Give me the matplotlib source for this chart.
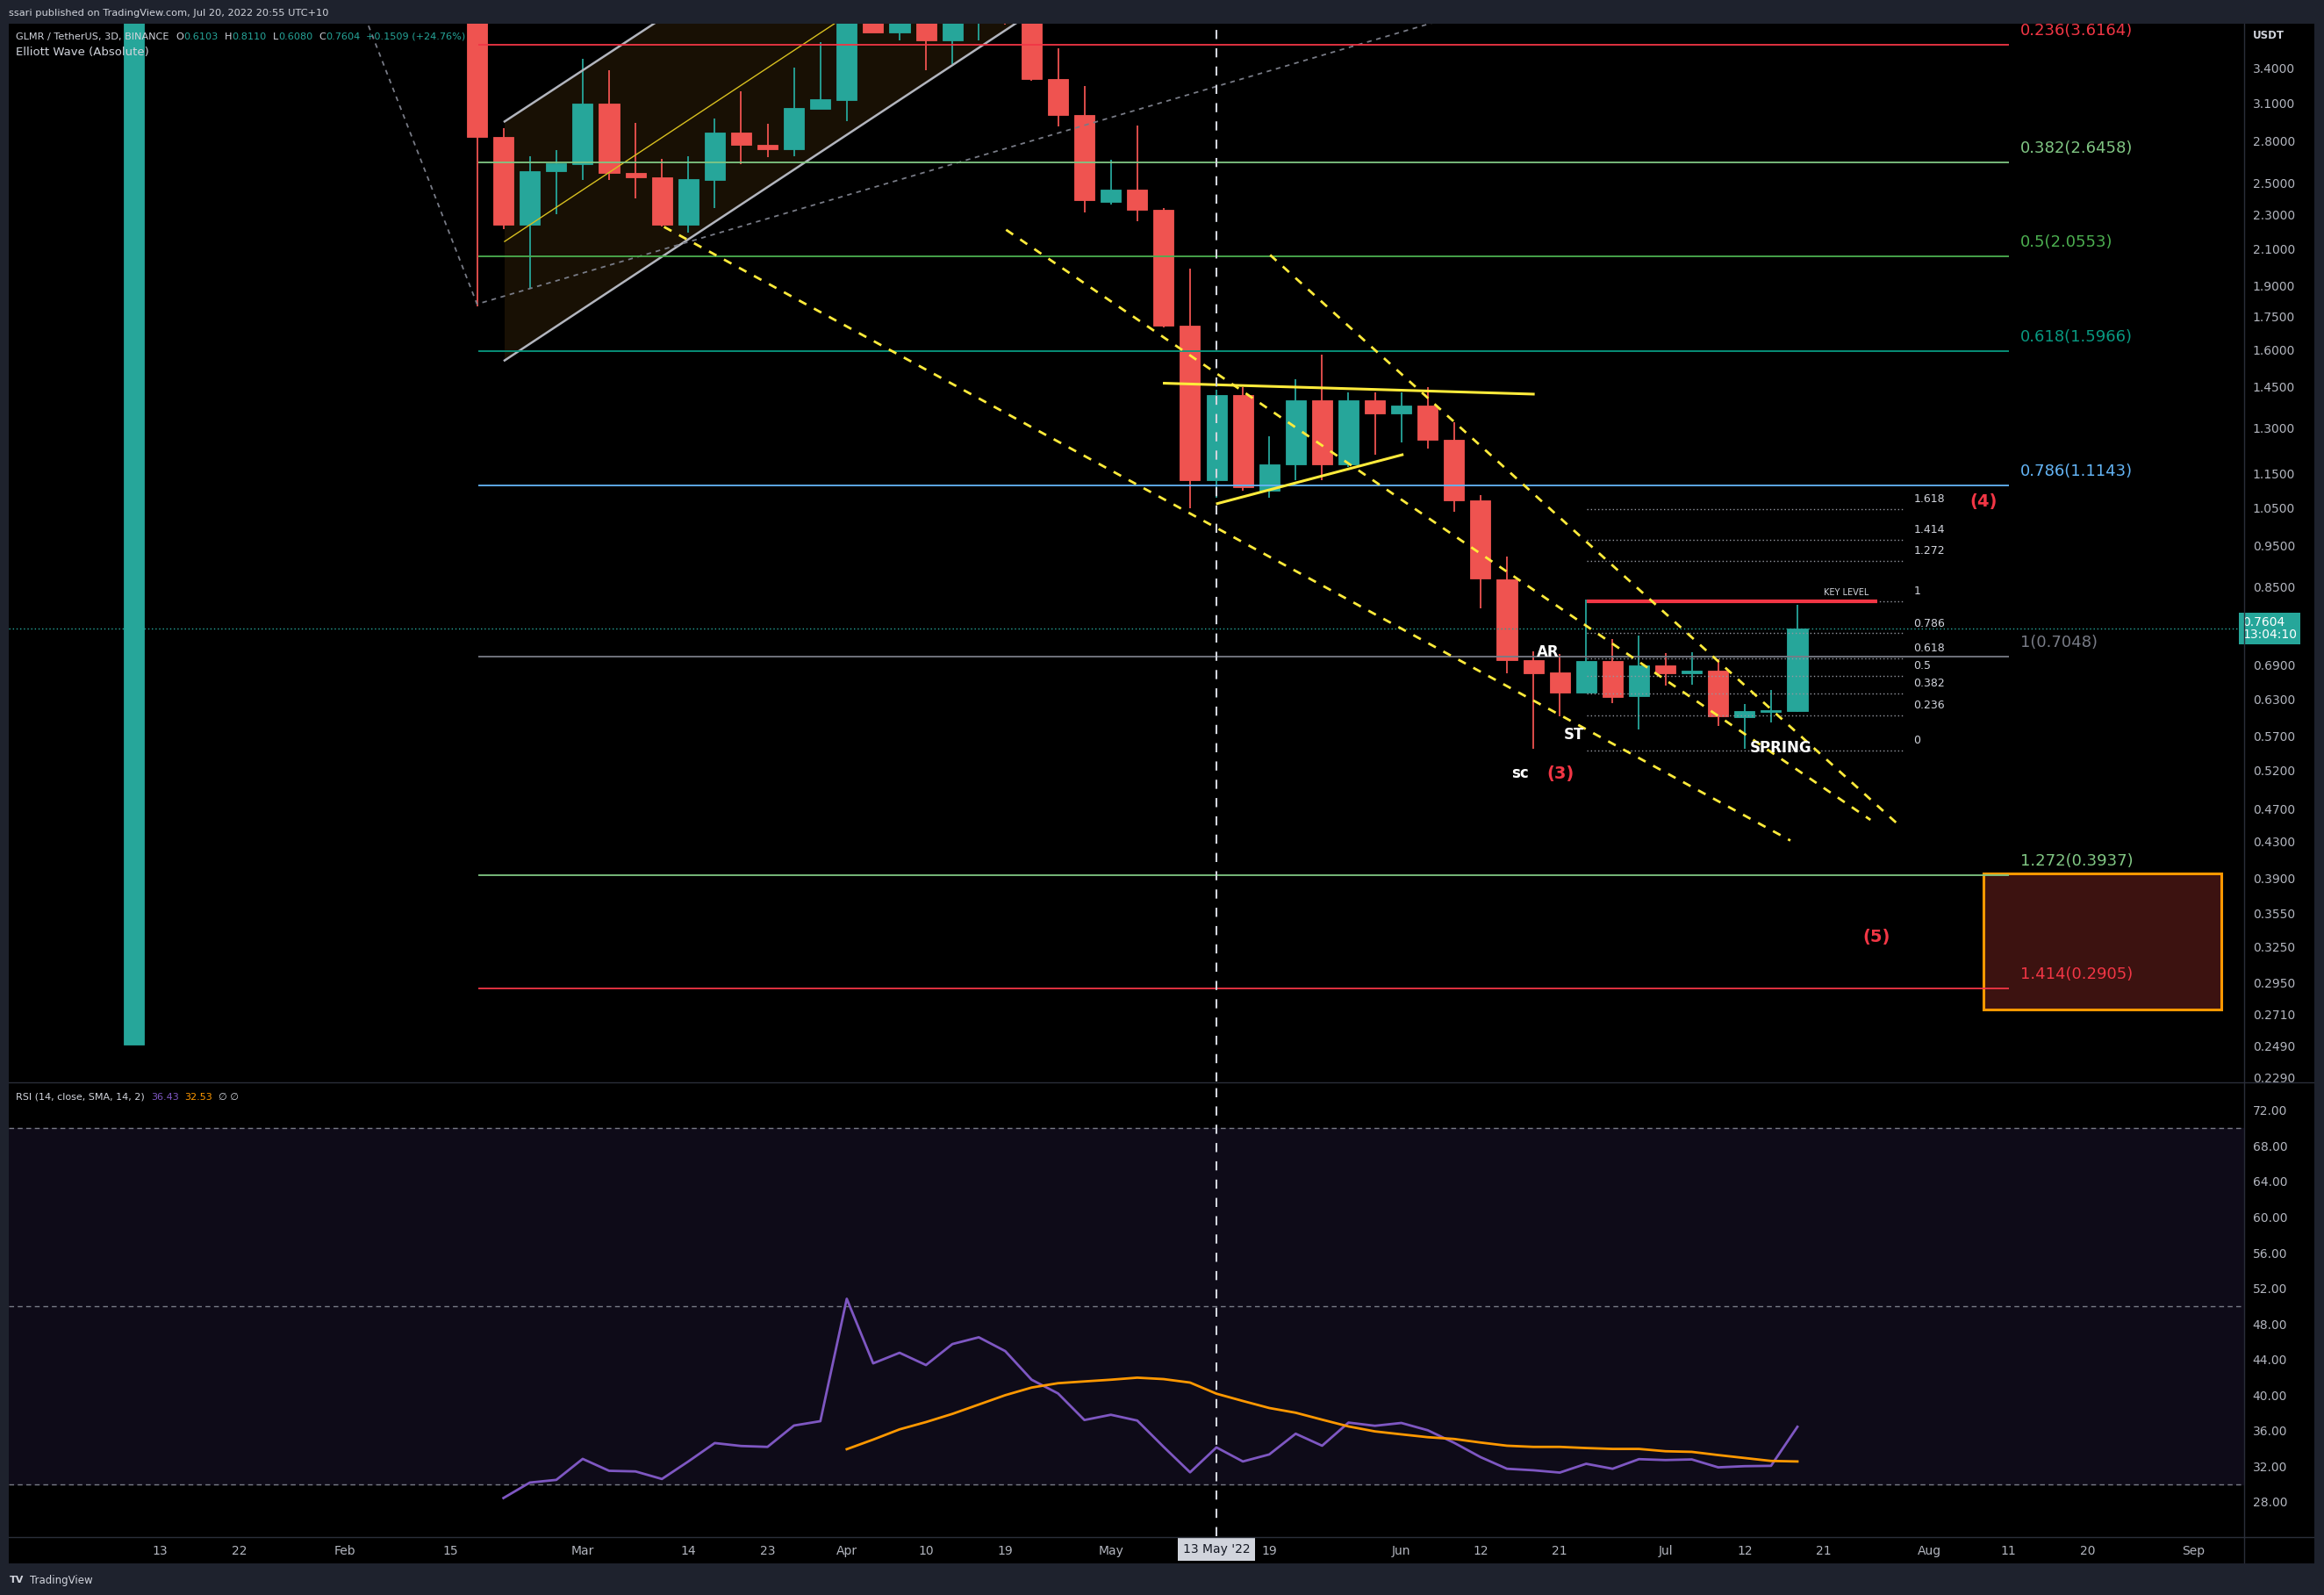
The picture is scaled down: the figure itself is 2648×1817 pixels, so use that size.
import numpy as np
import matplotlib
matplotlib.use("Agg")
import matplotlib.pyplot as plt
import matplotlib.transforms as mtransforms
from matplotlib.patches import Rectangle, Polygon
from matplotlib.lines import Line2D
from matplotlib.text import Annotation
from matplotlib.ticker import NullLocator, NullFormatter

W, H = 2648, 1817

UP = "#26a69a"
DOWN = "#ef5350"
FRAME = "#1e222d"
AXIS_TXT = "#b2b5be"
SEP = "#2a2e39"
YELLOW = "#ffeb3b"

# ---- candles: x = days after 13 Jan 2022, 3D bars ----
days = [-3, 36, 39, 42, 45, 48, 51, 54, 57, 60, 63, 66, 69, 72, 75, 78, 81, 84, 87, 90,
        93, 96, 99, 102, 105, 108, 111, 114, 117, 120, 123, 126, 129, 132, 135, 138, 141,
        144, 147, 150, 153, 156, 159, 162, 165, 168, 171, 174, 177, 180, 183, 186]
opens = [0.250, 4.05, 2.83, 2.24, 2.58, 2.63, 3.09, 2.57, 2.54, 2.24, 2.52, 2.86, 2.77, 2.74,
         3.05, 3.12, 4.05, 3.74, 3.96, 3.66, 3.92, 4.02, 3.90, 3.30, 3.00, 2.38, 2.46, 2.33,
         1.71, 1.13, 1.42, 1.10, 1.18, 1.40, 1.18, 1.40, 1.35, 1.38, 1.26, 1.07, 0.868, 0.699,
         0.676, 0.641, 0.697, 0.635, 0.689, 0.674, 0.679, 0.600, 0.609, 0.6103]
highs = [19.5, 4.10, 2.90, 2.69, 2.73, 3.49, 3.38, 2.94, 2.67, 2.69, 2.97, 3.20, 2.93, 3.41,
         3.65, 4.35, 4.20, 4.10, 4.05, 3.95, 4.15, 4.12, 3.95, 3.59, 3.24, 2.66, 2.92, 2.34,
         1.99, 1.44, 1.45, 1.27, 1.48, 1.58, 1.43, 1.43, 1.43, 1.45, 1.32, 1.086, 0.922, 0.716,
         0.710, 0.821, 0.740, 0.746, 0.712, 0.713, 0.701, 0.621, 0.645, 0.8110]
lows = [0.250, 1.80, 2.21, 1.89, 2.30, 2.52, 2.52, 2.40, 2.23, 2.19, 2.34, 2.63, 2.68, 2.69,
        3.05, 2.95, 3.74, 3.66, 3.38, 3.44, 3.66, 3.82, 3.29, 2.91, 2.31, 2.36, 2.26, 1.70,
        1.05, 1.08, 1.10, 1.08, 1.13, 1.13, 1.17, 1.21, 1.25, 1.23, 1.04, 0.803, 0.674, 0.552,
        0.601, 0.641, 0.623, 0.581, 0.653, 0.654, 0.586, 0.552, 0.592, 0.6080]
closes = [9.80, 2.83, 2.24, 2.58, 2.64, 3.09, 2.57, 2.54, 2.24, 2.53, 2.86, 2.77, 2.74, 3.06,
          3.13, 4.05, 3.74, 3.95, 3.66, 3.92, 4.02, 3.90, 3.30, 3.00, 2.39, 2.46, 2.33, 1.71,
          1.13, 1.42, 1.11, 1.18, 1.40, 1.18, 1.40, 1.35, 1.38, 1.26, 1.07, 0.869, 0.699, 0.675,
          0.641, 0.697, 0.634, 0.689, 0.674, 0.679, 0.602, 0.610, 0.611, 0.7604]

# ---- RSI ----
rsi_days = list(range(39, 187, 3))
rsi_vals = [28.42, 30.16, 30.46, 32.82, 31.48, 31.41, 30.56, 32.53, 34.60, 34.27, 34.17, 36.57,
            37.06, 50.82, 43.56, 44.75, 43.37, 45.73, 46.49, 44.94, 41.72, 40.18, 37.19, 37.78,
            37.13, 34.17, 31.31, 34.11, 32.53, 33.32, 35.65, 34.30, 36.90, 36.54, 36.86, 36.04,
            34.63, 33.02, 31.71, 31.54, 31.28, 32.27, 31.71, 32.79, 32.69, 32.76, 31.87, 32.00,
            32.04, 36.43]
sma_days = list(range(78, 187, 3))
sma_vals = [33.91, 34.99, 36.14, 36.96, 37.88, 38.93, 39.98, 40.84, 41.33, 41.53, 41.72, 41.95,
            41.79, 41.40, 40.15, 39.33, 38.54, 38.01, 37.23, 36.47, 35.91, 35.58, 35.26, 35.06,
            34.66, 34.30, 34.17, 34.17, 34.04, 33.94, 33.94, 33.68, 33.61, 33.25, 32.92, 32.59,
            32.53]

# ---- axes ticks ----
price_ticks = [3.4, 3.1, 2.8, 2.5, 2.3, 2.1, 1.9, 1.75, 1.6, 1.45, 1.3, 1.15, 1.05, 0.95, 0.85,
               0.69, 0.63, 0.57, 0.52, 0.47, 0.43, 0.39, 0.355, 0.325, 0.295, 0.271, 0.249, 0.229]
rsi_ticks = [72, 68, 64, 60, 56, 52, 48, 44, 40, 36, 32, 28]
time_ticks = [0, 9, 21, 33, 48, 60, 69, 78, 87, 96, 108, 126, 141, 150, 159, 171, 180, 189,
              201, 210, 219, 231]
time_labels = ["13", "22", "Feb", "15", "Mar", "14", "23", "Apr", "10", "19", "May", "19",
               "Jun", "12", "21", "Jul", "12", "21", "Aug", "11", "20", "Sep"]

# ---- big fib (elliott target) ----
fib_ratios = ["0.236", "0.382", "0.5", "0.618", "0.786", "1", "1.272", "1.414"]
fib_prices = [3.6164, 2.6458, 2.0553, 1.5966, 1.1143, 0.7048, 0.3937, 0.2905]
fib_colors = ["#f23645", "#81c784", "#4caf50", "#089981", "#64b5f6", "#787b86", "#81c784", "#f23645"]

# ---- small fib on the range ----
small_fib_levels = ["0", "0.236", "0.382", "0.5", "0.618", "0.786", "1", "1.272", "1.414", "1.618"]
small_fib_low, small_fib_high = 0.549, 0.818

# ---- drawings (day, price) ----
channel_upper = [(39.13, 2.949), (61.57, 4.168)]
channel_mid = [(39.13, 2.140), (81.51, 4.134)]
channel_lower = [(39.13, 1.557), (101.46, 4.095)]
gray_wave = [(21.75, 4.276), (36.0, 1.81), (151.3, 4.023)]
dashed_lines = [[(57.24, 2.225), (185.2, 0.4315)],
                [(96.1, 2.208), (194.3, 0.456)],
                [(126.1, 2.064), (197.8, 0.447)]]
tri_upper = [(114.07, 1.465), (156.0, 1.423)]
tri_lower = [(120.1, 1.062), (141.1, 1.21)]
target_box = (207.1, 0.2749, 234.2, 0.3947)
key_level = 0.818
last_close = 0.7604
cross_day = 120

fig = plt.figure(figsize=(W / 100, H / 100), dpi=100, facecolor="#000000")


def box(x0, y0, x1, y1):
    return [x0 / W, 1 - y1 / H, (x1 - x0) / W, (y1 - y0) / H]


ax = fig.add_axes(box(10, 27, 2557, 1232))
axr = fig.add_axes(box(10, 1233, 2557, 1750))
for a in (ax, axr):
    a.set_facecolor("#000000")
    for s in a.spines.values():
        s.set_visible(False)
    a.set_xlim(-17.2, 236.75)

ax.set_yscale("log")
ax.set_ylim(0.2266, 3.830)
axr.set_ylim(24.13, 75.15)

# price axis
ax.yaxis.tick_right()
ax.set_yticks(price_ticks)
ax.set_yticklabels([f"{t:.4f}" for t in price_ticks])
ax.yaxis.set_minor_locator(NullLocator())
ax.yaxis.set_minor_formatter(NullFormatter())
ax.tick_params(axis="y", length=0, pad=7, labelsize=10, labelcolor=AXIS_TXT)
ax.tick_params(axis="x", bottom=False, labelbottom=False)

axr.yaxis.tick_right()
axr.set_yticks(rsi_ticks)
axr.set_yticklabels([f"{t:.2f}" for t in rsi_ticks])
axr.tick_params(axis="y", length=0, pad=7, labelsize=10, labelcolor=AXIS_TXT)
axr.set_xticks(time_ticks)
axr.set_xticklabels(time_labels)
axr.tick_params(axis="x", length=0, pad=7, labelsize=10, labelcolor=AXIS_TXT)

# ascending channel
fill_pts = [channel_lower[0], channel_upper[0], channel_upper[1], channel_lower[1]]
ax.add_patch(Polygon(fill_pts, closed=True, fc="#181004", ec="none", zorder=1))
for seg, col, lw in [(channel_upper, "#b2b5be", 1.8), (channel_lower, "#b2b5be", 1.8),
                     (channel_mid, "#d8c020", 1.0)]:
    ax.plot([p[0] for p in seg], [p[1] for p in seg], color=col, lw=lw, zorder=5)

ax.plot([p[0] for p in gray_wave], [p[1] for p in gray_wave], color="#787b86", lw=1.3,
        ls=(0, (3, 3)), zorder=5)

# target box
bx0, by0, bx1, by1 = target_box
ax.add_patch(Rectangle((bx0, by0), bx1 - bx0, by1 - by0, fc="#3c1210", ec="#ff9800",
                       lw=2.2, zorder=2))

# candles
colors = [UP if c >= o else DOWN for o, c in zip(opens, closes)]
bottoms = np.minimum(opens, closes)
heights = np.abs(np.array(closes) - np.array(opens))
ax.vlines(days, lows, highs, colors=colors, lw=1.3, zorder=3)
ax.bar(days, heights, bottom=bottoms, width=2.3, color=colors, edgecolor=colors, lw=0.6,
       zorder=4)

# big fib levels
lab_off = mtransforms.offset_copy(ax.transData, fig=fig, x=0, y=11.5, units="points")
ax.hlines(fib_prices, 36.1, 210.0, colors=fib_colors, lw=1.3, zorder=5)
for r, p, c in zip(fib_ratios, fib_prices, fib_colors):
    ax.text(211.3, p, f"{r}({p:.4f})", color=c, fontsize=13, va="center", ha="left",
            transform=lab_off, clip_on=True, zorder=6)

# small fib levels
small_prices = [small_fib_low * (small_fib_high / small_fib_low) ** float(r) for r in small_fib_levels]
ax.hlines(small_prices, 162.1, 198.1, colors="#9598a1", lw=1.0, linestyles=(0, (1, 2)), zorder=5)
sm_off = mtransforms.offset_copy(ax.transData, fig=fig, x=0, y=8, units="points")
for r, p in zip(small_fib_levels, small_prices):
    ax.text(199.2, p, r, color="#d1d4dc", fontsize=9, va="center", ha="left",
            transform=sm_off, zorder=6)

# key level
ax.hlines(key_level, 162.1, 195.1, colors="#f23645", lw=3, zorder=6)
kl_off = mtransforms.offset_copy(ax.transData, fig=fig, x=0, y=7, units="points")
ax.text(191.6, key_level, "KEY LEVEL", color="#d1d4dc", fontsize=7, ha="center", va="center",
        transform=kl_off, zorder=6)

# yellow channels and triangle
for seg in dashed_lines:
    ax.plot([p[0] for p in seg], [p[1] for p in seg], color=YELLOW, lw=2, ls=(0, (3.5, 3.5)),
            zorder=6)
for seg in (tri_upper, tri_lower):
    ax.plot([p[0] for p in seg], [p[1] for p in seg], color=YELLOW, lw=2.2, zorder=6)

# last price line
ax.axhline(last_close, color=UP, lw=1, ls=(0, (1, 2)), zorder=5)

# wave labels
labels = [("AR", 157.7, 0.714, "white", 12), ("ST", 160.6, 0.5725, "white", 12),
          ("SPRING", 184.1, 0.553, "white", 12), ("sc", 154.5, 0.516, "white", 12),
          ("(3)", 159.1, 0.516, "#f23645", 14), ("(4)", 207.1, 1.067, "#f23645", 14),
          ("(5)", 195.0, 0.3335, "#f23645", 14)]
for txt, x, y, c, fs in labels:
    ax.text(x, y, txt, color=c, fontsize=fs, fontweight="bold", ha="center", va="center",
            zorder=8)

# crosshair
for a in (ax, axr):
    a.axvline(cross_day, color="#d1d4dc", lw=1.5, ls=(0, (5, 5)), zorder=7)

# RSI pane
axr.axhspan(30, 70, color="#0e0b18", zorder=0)
for lvl in (70, 50, 30):
    axr.axhline(lvl, color="#787b86", lw=1, ls=(0, (4, 3)), zorder=1)
axr.plot(rsi_days, rsi_vals, color="#7e57c2", lw=2, zorder=3)
axr.plot(sma_days, sma_vals, color="#ff9800", lw=2, zorder=3)

# frame strips and separators
for x0, y0, x1, y1 in [(0, 0, W, 27), (0, 1781, W, H), (0, 0, 10, H), (2637, 0, W, H)]:
    fig.add_artist(Rectangle((x0 / W, 1 - y1 / H), (x1 - x0) / W, (y1 - y0) / H,
                             transform=fig.transFigure, fc=FRAME, ec="none", zorder=20))
fig.add_artist(Line2D([2557 / W, 2557 / W], [1 - 27 / H, 1 - 1781 / H], transform=fig.transFigure,
                      color=SEP, lw=1))
for yy in (1232.5, 1750.5):
    fig.add_artist(Line2D([10 / W, 2637 / W], [1 - yy / H, 1 - yy / H], transform=fig.transFigure,
                          color=SEP, lw=1))

# header
fig.text(10 / W, 1 - 15 / H, "ssari published on TradingView.com, Jul 20, 2022 20:55 UTC+10",
         color="#d1d4dc", fontsize=8.2, va="center", zorder=21)


def chain(items, x, y, fs):
    prev = fig.text(x / W, 1 - y / H, items[0][0], color=items[0][1], fontsize=fs, va="center")
    for txt, col, gap in items[1:]:
        a = Annotation(txt, xy=(1, 0), xycoords=prev, xytext=(gap, 0), textcoords="offset points",
                       va="bottom", ha="left", color=col, fontsize=fs)
        fig.add_artist(a)
        prev = a


LEG = "#d1d4dc"
chain([("GLMR / TetherUS, 3D, BINANCE", LEG, 0), ("O", LEG, 6), (f"{opens[-1]:.4f}", UP, 0),
       ("H", LEG, 5), (f"{highs[-1]:.4f}", UP, 0), ("L", LEG, 5), (f"{lows[-1]:.4f}", UP, 0),
       ("C", LEG, 5), (f"{closes[-1]:.4f}", UP, 0), ("+0.1509 (+24.76%)", UP, 5)], 18, 42, 8.1)
fig.text(18 / W, 1 - 60 / H, "Elliott Wave (Absolute)", color=LEG, fontsize=9.5, va="center")
chain([("RSI (14, close, SMA, 14, 2)", LEG, 0), (f"{rsi_vals[-1]:.2f}", "#7e57c2", 5),
       (f"{sma_vals[-1]:.2f}", "#ff9800", 5), ("\u2205 \u2205", LEG, 5)], 18, 1250, 8)

fig.text(2567 / W, 1 - 40 / H, "USDT", color="#d1d4dc", fontsize=8.5, fontweight="bold",
         va="center")

# last price tag on the axis
tag_tr = mtransforms.blended_transform_factory(fig.transFigure, ax.transData)
ax.text(2555 / W, last_close, f"{last_close:.4f}\n13:04:10", transform=tag_tr, color="white",
        fontsize=10, ha="left", va="center", linespacing=1.0, clip_on=False, zorder=30,
        bbox=dict(boxstyle="square,pad=0.3", fc=UP, ec="none"))

# crosshair date tag
date_tr = mtransforms.blended_transform_factory(axr.transData, fig.transFigure)
axr.text(cross_day, 1 - 1765 / H, "13 May '22", transform=date_tr, color="#131722", fontsize=10,
         ha="center", va="center", clip_on=False, zorder=30,
         bbox=dict(boxstyle="square,pad=0.4", fc="#d1d4dc", ec="none"))

fig.text(11 / W, 1 - 1800 / H, "TV", color="#d1d4dc", fontsize=8, fontweight="bold",
         va="center", zorder=21)
fig.text(34 / W, 1 - 1800 / H, "TradingView", color="#d1d4dc", fontsize=8.5, va="center", zorder=21)

fig.savefig("out.png", dpi=100, facecolor=fig.get_facecolor())
